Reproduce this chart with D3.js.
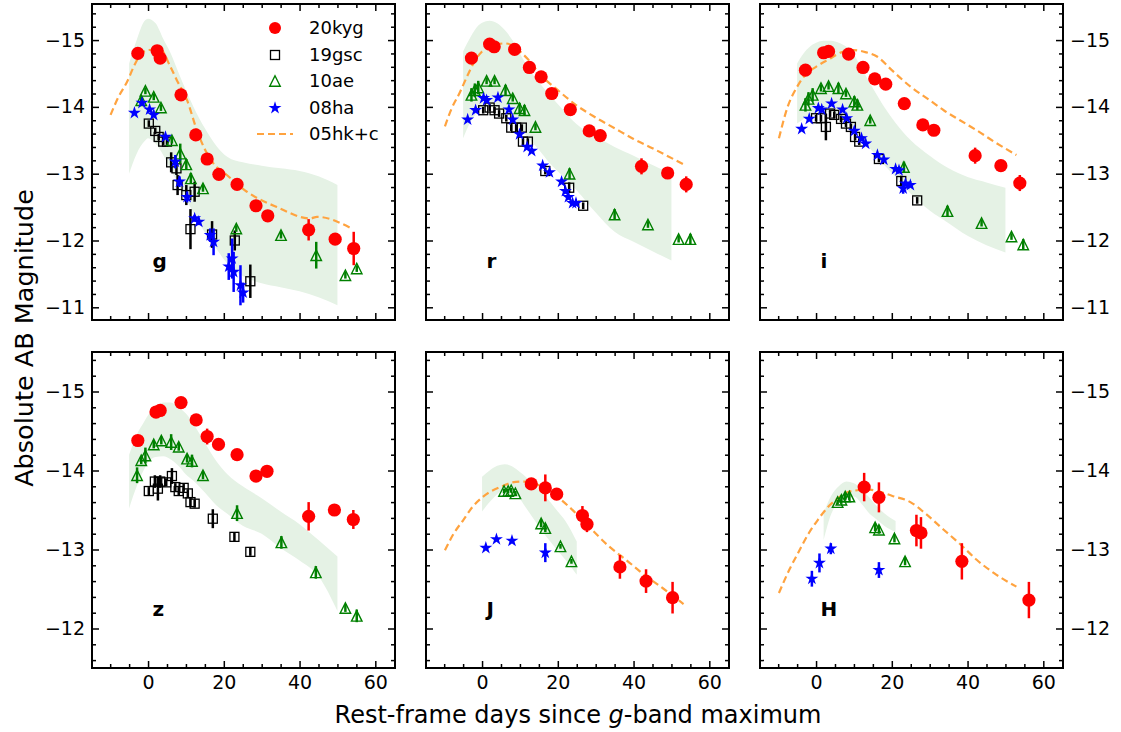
<!DOCTYPE html>
<html><head><meta charset="utf-8">
<script src="https://cdn.jsdelivr.net/npm/d3@7"></script>
<style>body{margin:0;background:#fff}svg{display:block}text{font-family:"DejaVu Sans",sans-serif}</style>
</head><body><svg id="c" width="1121" height="732"></svg>
<script>
// ---------- data: [days, absolute mag, error] ----------
const bands = ["g","r","i","z","J","H"];
const seriesNames = ["20kyg","19gsc","10ae","08ha","05hk+c"];

const kyg_g = [[-2.7,-14.80,0],[2.4,-14.84,0],[3.2,-14.73,0],[8.7,-14.18,0],[12.6,-13.58,0],[15.6,-13.22,0],[18.7,-12.99,0],[23.5,-12.84,0],[28.5,-12.52,0],[31.6,-12.37,0],[42.4,-12.16,0.16],[49.4,-12.02,0.05],[54.3,-11.88,0.25]];
const kyg_r = [[-2.8,-14.73,0],[2.0,-14.94,0],[3.2,-14.90,0],[8.6,-14.86,0],[12.5,-14.59,0],[15.6,-14.45,0],[18.4,-14.20,0],[23.3,-13.96,0],[28.3,-13.64,0],[31.2,-13.57,0],[42.1,-13.11,0.12],[49.0,-13.01,0.04],[53.9,-12.84,0.12]];
const kyg_i = [[-2.8,-14.55,0],[2.0,-14.81,0],[3.3,-14.83,0],[8.6,-14.79,0],[12.4,-14.59,0],[15.5,-14.42,0],[18.4,-14.34,0],[23.3,-14.05,0],[28.2,-13.73,0],[31.1,-13.65,0],[42.0,-13.27,0.12],[48.8,-13.12,0.04],[53.8,-12.86,0.12]];
const kyg_z = [[-2.7,-14.38,0],[2.1,-14.74,0],[3.2,-14.76,0],[8.7,-14.86,0],[12.7,-14.64,0],[15.6,-14.43,0.1],[18.6,-14.33,0],[23.5,-14.20,0],[28.5,-13.93,0],[31.4,-13.99,0],[42.4,-13.42,0.18],[49.2,-13.50,0.07],[54.2,-13.38,0.12]];
const kyg_J = [[13.0,-13.83,0.05],[16.7,-13.78,0.17],[19.7,-13.70,0],[26.5,-13.43,0.12],[27.7,-13.32,0.10],[36.4,-12.78,0.15],[43.3,-12.60,0.15],[50.3,-12.39,0.20]];
const kyg_H = [[12.7,-13.79,0.18],[16.6,-13.66,0.19],[26.5,-13.24,0.20],[27.7,-13.21,0.20],[38.5,-12.85,0.23],[56.2,-12.36,0.23]];

const gsc_g = [[0.2,-13.75,0.05],[1.9,-13.64,0.05],[2.8,-13.55,0.05],[4.0,-13.48,0.05],[5.0,-13.48,0.05],[6.1,-13.17,0.15],[7.5,-13.08,0.1],[7.8,-12.83,0.15],[10.1,-12.68,0.15],[12.3,-12.73,0.15],[11.2,-12.17,0.3],[16.9,-12.09,0.2],[22.9,-12.00,0.15],[27.0,-11.39,0.25]];
const gsc_r = [[0.3,-13.95,0.05],[2.0,-13.99,0.05],[3.3,-13.95,0.05],[4.5,-13.90,0.05],[6.4,-13.83,0.05],[7.7,-13.69,0.05],[9.0,-13.69,0.05],[10.5,-13.69,0.05],[10.8,-13.48,0.05],[12.1,-13.48,0.05],[16.7,-13.04,0.05],[23.0,-12.79,0.08],[26.7,-12.52,0.05]];
const gsc_i = [[0.0,-13.83,0.05],[1.3,-13.83,0.05],[2.6,-13.70,0.2],[3.7,-13.90,0.05],[4.8,-13.88,0.05],[6.6,-13.82,0.05],[7.9,-13.75,0.05],[9.2,-13.70,0.05],[10.3,-13.55,0.05],[11.4,-13.48,0.05],[16.6,-13.22,0.05],[22.5,-12.89,0.08],[26.7,-12.60,0.05]];
const gsc_z = [[0.2,-13.74,0.05],[1.8,-13.86,0.08],[2.6,-13.77,0.15],[3.2,-13.86,0.08],[4.8,-13.85,0.05],[6.3,-13.93,0.1],[7.2,-13.79,0.05],[8.1,-13.74,0.05],[9.4,-13.78,0.05],[10.5,-13.71,0.05],[11.2,-13.60,0.05],[12.3,-13.58,0.05],[17.1,-13.39,0.12],[22.8,-13.16,0.06],[27.0,-12.97,0.05]];
const gsc_J = [];
const gsc_H = [];

const ae_g = [[-1.8,-14.10,0.05],[-0.7,-14.24,0.05],[1.5,-14.15,0.05],[3.4,-13.99,0.05],[6.3,-13.50,0.05],[8.5,-13.30,0.15],[10.1,-13.14,0.08],[11.3,-12.93,0.08],[14.5,-12.78,0.05],[23.3,-12.18,0.05],[35.1,-12.08,0.05],[44.4,-11.78,0.2],[52.1,-11.48,0.05],[55.1,-11.58,0.05]];
const ae_r = [[-2.8,-14.18,0.1],[-1.9,-14.25,0.1],[-1.0,-14.29,0.1],[1.2,-14.39,0.05],[3.3,-14.39,0.05],[6.2,-14.25,0.08],[8.1,-14.13,0.05],[9.9,-13.98,0.08],[11.2,-13.95,0.08],[14.1,-13.70,0.05],[23.1,-13.00,0.08],[35.0,-12.39,0.08],[43.8,-12.24,0.05],[51.9,-12.02,0.05],[55.0,-12.02,0.08]];
const ae_i = [[-2.8,-14.03,0.1],[-2.0,-14.12,0.1],[-0.9,-14.18,0.1],[1.3,-14.28,0.05],[3.3,-14.31,0.05],[5.9,-14.28,0.08],[7.9,-14.20,0.05],[10.1,-14.08,0.08],[10.9,-14.03,0.08],[14.3,-13.80,0.05],[23.2,-13.10,0.08],[34.7,-12.44,0.08],[43.7,-12.26,0.05],[51.6,-12.06,0.05],[54.7,-11.94,0.08]];
const ae_z = [[-2.9,-13.94,0.1],[-1.8,-14.13,0.05],[-0.7,-14.19,0.1],[1.5,-14.33,0.05],[3.5,-14.38,0.05],[6.1,-14.36,0.1],[8.1,-14.30,0.05],[10.3,-14.15,0.05],[11.6,-14.12,0.08],[14.5,-13.94,0.05],[23.5,-13.46,0.1],[35.2,-13.09,0.08],[44.3,-12.71,0.08],[52.1,-12.26,0.05],[55.1,-12.16,0.08]];
const ae_J = [[5.8,-13.74,0.03],[6.9,-13.74,0.03],[7.7,-13.75,0.03],[8.8,-13.71,0.03],[15.6,-13.33,0.05],[16.7,-13.27,0.05],[20.7,-13.04,0.03],[23.6,-12.85,0.03]];
const ae_H = [[5.7,-13.60,0.03],[6.7,-13.63,0.05],[7.7,-13.67,0.05],[8.8,-13.67,0.05],[15.6,-13.28,0.05],[16.6,-13.25,0.05],[20.7,-13.14,0.05],[23.5,-12.85,0.05]];

const ha_g = [[-3.6,-13.91,0],[-1.6,-14.06,0],[0.4,-13.96,0],[1.5,-13.88,0],[4.6,-13.55,0],[7.2,-13.18,0.1],[8.3,-12.88,0.08],[10.3,-12.65,0.08],[12.3,-12.33,0.05],[13.4,-12.28,0.05],[16.4,-12.08,0.1],[17.3,-11.98,0.2],[21.3,-11.61,0.2],[22.2,-11.73,0.3],[22.6,-11.53,0.3],[24.4,-11.33,0.3],[25.1,-11.22,0.15]];
const ha_r = [[-3.8,-13.81,0],[-1.7,-13.95,0],[0.4,-14.13,0],[1.2,-14.10,0],[4.2,-14.14,0],[7.1,-13.96,0],[8.1,-13.81,0],[9.9,-13.59,0],[11.9,-13.40,0],[13.1,-13.34,0],[16.0,-13.12,0],[17.8,-13.02,0],[21.0,-12.88,0],[22.0,-12.74,0],[22.8,-12.65,0],[23.9,-12.56,0],[24.8,-12.56,0]];
const ha_i = [[-3.8,-13.67,0],[-1.8,-13.82,0],[0.6,-13.98,0],[1.5,-13.96,0],[4.1,-14.05,0],[7.0,-13.96,0],[8.1,-13.83,0],[10.1,-13.64,0],[12.0,-13.53,0],[13.1,-13.45,0],[16.2,-13.28,0],[17.9,-13.21,0],[21.0,-13.07,0],[21.9,-13.05,0],[23.0,-12.78,0.08],[23.6,-12.85,0],[24.9,-12.83,0]];
const ha_z = [];
const ha_J = [[1.0,-13.02,0],[3.8,-13.13,0],[7.9,-13.11,0],[16.7,-12.96,0.12]];
const ha_H = [[-1.1,-12.63,0.1],[0.9,-12.83,0.12],[3.9,-13.01,0.07],[16.6,-12.74,0.1]];

// 05hk+c template curves [days, mag]
const hk_g = [[-9.9,-13.88],[-7.8,-14.15],[-5.5,-14.38],[-3.8,-14.6],[-2,-14.78],[-0.1,-14.85],[3.2,-14.86],[5.9,-14.6],[7.6,-14.4],[10.3,-14.1],[12.9,-13.65],[14.7,-13.4],[17.3,-13.15],[20.8,-12.98],[26.1,-12.73],[34,-12.5],[42.8,-12.33],[44.6,-12.355],[53.4,-12.19]];
const hk_r = [[-9.8,-13.71],[-8,-13.98],[-6,-14.2],[-4,-14.45],[-2,-14.68],[0,-14.83],[2,-14.9],[4,-14.94],[6,-14.95],[8,-14.92],[10,-14.83],[12,-14.72],[14,-14.58],[16,-14.45],[20,-14.25],[25,-14.02],[30,-13.84],[35,-13.68],[40,-13.52],[45,-13.38],[53.2,-13.14]];
const hk_i = [[-9.8,-13.53],[-7.5,-14.0],[-5,-14.3],[-3,-14.47],[0,-14.6],[3,-14.7],[7.4,-14.83],[10,-14.85],[13,-14.82],[16.2,-14.75],[20,-14.55],[25,-14.3],[30,-14.1],[33.7,-13.95],[38,-13.8],[42.4,-13.65],[47,-13.48],[52.9,-13.28]];
const hk_z = [];
const hk_J = [[-9.8,-12.99],[-7.5,-13.2],[-5,-13.37],[-2.5,-13.54],[0.3,-13.67],[5.8,-13.81],[8,-13.85],[11,-13.86],[13.5,-13.84],[16,-13.79],[19,-13.7],[23,-13.54],[28,-13.3],[33.5,-13.04],[38,-12.87],[42.3,-12.7],[48,-12.5],[53.2,-12.31]];
const hk_H = [[-9.8,-12.45],[-7,-12.75],[-4.8,-12.95],[-2,-13.2],[0.4,-13.37],[3,-13.53],[5.8,-13.65],[8,-13.72],[10.9,-13.75],[13.5,-13.76],[16.2,-13.74],[20,-13.68],[24.9,-13.6],[29,-13.45],[33.7,-13.25],[38,-13.07],[42.4,-12.87],[47,-12.7],[52.9,-12.53]];

// shaded comparison envelope [days, bright edge, faint edge]
const env_g = [[-5,-14.65,-13.0],[-3,-15.0,-13.3],[-1,-15.28,-13.48],[0,-15.32,-13.53],[2,-15.25,-13.45],[4,-15.02,-13.28],[6,-14.8,-13.05],[8,-14.52,-12.85],[10,-14.25,-12.63],[12,-14.0,-12.41],[15,-13.68,-12.12],[18,-13.42,-11.88],[21,-13.25,-11.65],[25,-13.17,-11.47],[30,-13.12,-11.36],[35,-13.08,-11.3],[40,-13.04,-11.24],[45,-12.96,-11.15],[50,-12.83,-11.03]];
const env_r = [[-5,-14.83,-13.53],[-3,-15.05,-13.78],[-1,-15.22,-13.93],[0,-15.26,-13.98],[2,-15.29,-14.0],[4,-15.25,-13.98],[6,-15.15,-13.92],[8,-15.0,-13.82],[10,-14.8,-13.68],[12,-14.6,-13.55],[15,-14.37,-13.36],[18,-14.17,-13.15],[21,-13.98,-12.98],[25,-13.74,-12.75],[30,-13.56,-12.42],[35,-13.4,-12.13],[40,-13.27,-11.98],[45,-13.13,-11.84],[50,-13.0,-11.7]];
const env_i = [[-5,-14.65,-13.75],[-3,-14.82,-13.83],[-1,-14.93,-13.9],[0,-14.96,-13.92],[2,-14.99,-13.93],[4,-14.99,-13.92],[6,-14.96,-13.87],[8,-14.9,-13.78],[10,-14.78,-13.65],[12,-14.58,-13.52],[15,-14.28,-13.33],[18,-14.0,-13.13],[21,-13.76,-12.95],[25,-13.5,-12.7],[30,-13.27,-12.45],[35,-13.08,-12.26],[40,-12.95,-12.07],[45,-12.87,-11.93],[50,-12.79,-11.82]];
const env_z = [[-5,-14.2,-13.52],[-3,-14.45,-13.8],[-1,-14.62,-14.02],[0,-14.7,-14.1],[2,-14.8,-14.17],[4,-14.86,-14.18],[6,-14.86,-14.14],[8,-14.8,-14.06],[10,-14.72,-13.95],[12,-14.59,-13.87],[15,-14.35,-13.72],[18,-14.12,-13.56],[21,-13.95,-13.45],[25,-13.8,-13.3],[30,-13.65,-13.2],[35,-13.48,-13.02],[40,-13.32,-12.86],[45,-13.12,-12.66],[50,-12.91,-12.22]];
const env_J = [[0,-13.92,-13.48],[2,-14.0,-13.6],[4,-14.06,-13.7],[6,-14.08,-13.76],[8,-14.05,-13.75],[10,-13.98,-13.64],[12,-13.9,-13.5],[14,-13.8,-13.36],[16,-13.71,-13.22],[18,-13.6,-13.1],[20,-13.48,-12.98],[22,-13.36,-12.87],[25,-13.1,-12.68]];
const env_H = [[2,-13.46,-13.12],[4,-13.68,-13.45],[6,-13.8,-13.6],[8,-13.86,-13.67],[10,-13.84,-13.67],[12,-13.76,-13.58],[14,-13.66,-13.46],[16,-13.55,-13.38],[18,-13.46,-13.3],[21,-13.36,-13.22]];

const xMajorTicks = [0,20,40,60];
const yMajorTicksTop = [-15,-14,-13,-12,-11];
const yMajorTicksBottom = [-15,-14,-13,-12];

// ---------- layout ----------
const colX = [92,426,760], rowY = [4,352], PW = 303, PH = 316;
const xDomain = [-14.8,65.2];
const yDomains = [[-15.54,-10.81],[-15.5,-11.5]];
const RED="#ff0000", BLK="#000000", GRN="#008000", BLU="#0000ff", ORG="#ffa33f", ENV="#e5f2e5";

const panels = [
  {name:"g",c:0,r:0,kyg:kyg_g,gsc:gsc_g,ae:ae_g,ha:ha_g,hk:hk_g,env:env_g},
  {name:"r",c:1,r:0,kyg:kyg_r,gsc:gsc_r,ae:ae_r,ha:ha_r,hk:hk_r,env:env_r},
  {name:"i",c:2,r:0,kyg:kyg_i,gsc:gsc_i,ae:ae_i,ha:ha_i,hk:hk_i,env:env_i},
  {name:"z",c:0,r:1,kyg:kyg_z,gsc:gsc_z,ae:ae_z,ha:ha_z,hk:hk_z,env:env_z},
  {name:"J",c:1,r:1,kyg:kyg_J,gsc:gsc_J,ae:ae_J,ha:ha_J,hk:hk_J,env:env_J},
  {name:"H",c:2,r:1,kyg:kyg_H,gsc:gsc_H,ae:ae_H,ha:ha_H,hk:hk_H,env:env_H}
];

const svg = d3.select("#c");
const fmt = d => d<0 ? "\u2212"+Math.abs(d) : String(d);
const triPath = s => { const h=s/2; return `M0,${-h}L${h},${h}L${-h},${h}Z`; };
const starSym = (a) => d3.symbol(d3.symbolStar, a)();

panels.forEach((p,pi) => {
  const x = d3.scaleLinear().domain(xDomain).range([0,PW]);
  const y = d3.scaleLinear().domain(yDomains[p.r]).range([0,PH]);
  const g = svg.append("g").attr("transform",`translate(${colX[p.c]},${rowY[p.r]})`);
  const cid = "clip"+pi;
  g.append("clipPath").attr("id",cid).append("rect").attr("width",PW).attr("height",PH);
  const plot = g.append("g").attr("clip-path",`url(#${cid})`);

  // envelope
  plot.append("path").datum(p.env)
    .attr("d", d3.area().x(d=>x(d[0])).y0(d=>y(d[2])).y1(d=>y(d[1])).curve(d3.curveMonotoneX))
    .attr("fill",ENV);

  // model dashed
  if (p.hk.length) plot.append("path").datum(p.hk)
    .attr("d", d3.line().x(d=>x(d[0])).y(d=>y(d[1])).curve(d3.curveMonotoneX))
    .attr("fill","none").attr("stroke",ORG).attr("stroke-width",2.2).attr("stroke-dasharray","7,4");

  const errbars = (data,color) => plot.append("g").selectAll("line").data(data.filter(d=>d[2]>0)).join("line")
    .attr("x1",d=>x(d[0])).attr("x2",d=>x(d[0]))
    .attr("y1",d=>y(d[1]-d[2])).attr("y2",d=>y(d[1]+d[2]))
    .attr("stroke",color).attr("stroke-width",2.5);

  // 20kyg
  errbars(p.kyg,RED);
  plot.append("g").selectAll("circle").data(p.kyg).join("circle")
    .attr("cx",d=>x(d[0])).attr("cy",d=>y(d[1])).attr("r",6.6).attr("fill",RED);
  // 19gsc
  errbars(p.gsc,BLK);
  plot.append("g").selectAll("rect").data(p.gsc).join("rect")
    .attr("x",d=>x(d[0])-4.5).attr("y",d=>y(d[1])-4.5).attr("width",9).attr("height",9)
    .attr("fill","none").attr("stroke",BLK).attr("stroke-width",1.3);
  // 10ae
  errbars(p.ae,GRN);
  plot.append("g").selectAll("path").data(p.ae).join("path")
    .attr("transform",d=>`translate(${x(d[0])},${y(d[1])})`).attr("d",triPath(10.5))
    .attr("fill","none").attr("stroke",GRN).attr("stroke-width",1.4);
  // 08ha
  errbars(p.ha,BLU);
  plot.append("g").selectAll("path").data(p.ha).join("path")
    .attr("transform",d=>`translate(${x(d[0])},${y(d[1])})`).attr("d",starSym(52))
    .attr("fill",BLU);

  // axes (ticks inward on all sides)
  const yMaj = p.r===0 ? yMajorTicksTop : yMajorTicksBottom;
  const yMin = d3.range(Math.ceil(yDomains[p.r][0]*5), Math.floor(yDomains[p.r][1]*5)+1).map(v=>v/5).filter(v=>Math.abs(v-Math.round(v))>1e-6);
  const xMin = d3.range(-10,66,5).filter(v=>v%20!==0);
  const style = sel => { sel.select(".domain").remove(); sel.selectAll("line").attr("stroke","#000").attr("stroke-width",1.5);
    sel.selectAll("text").attr("font-size",19).attr("font-family","DejaVu Sans").attr("fill","#000"); };

  g.append("g").attr("transform",`translate(0,${PH})`).call(d3.axisBottom(x).tickValues(xMajorTicks).tickSize(-7).tickPadding(7.5).tickFormat(p.r===1?fmt:()=>"")).call(style);
  g.append("g").attr("transform",`translate(0,${PH})`).call(d3.axisBottom(x).tickValues(xMin).tickSize(-4).tickFormat(()=>"")).call(style);
  g.append("g").call(d3.axisTop(x).tickValues(xMajorTicks).tickSize(-7).tickFormat(()=>"")).call(style);
  g.append("g").call(d3.axisTop(x).tickValues(xMin).tickSize(-4).tickFormat(()=>"")).call(style);
  g.append("g").call(d3.axisLeft(y).tickValues(yMaj).tickSize(-7).tickPadding(7).tickFormat(p.c===0?fmt:()=>"")).call(style);
  g.append("g").call(d3.axisLeft(y).tickValues(yMin).tickSize(-4).tickFormat(()=>"")).call(style);
  g.append("g").attr("transform",`translate(${PW},0)`).call(d3.axisRight(y).tickValues(yMaj).tickSize(-7).tickPadding(7).tickFormat(p.c===2?fmt:()=>"")).call(style);
  g.append("g").attr("transform",`translate(${PW},0)`).call(d3.axisRight(y).tickValues(yMin).tickSize(-4).tickFormat(()=>"")).call(style);

  g.append("rect").attr("width",PW).attr("height",PH).attr("fill","none").attr("stroke","#000").attr("stroke-width",2);

  // band label
  g.append("text").attr("x",0.2*PW).attr("y",PH-0.15*PH-4.7)
    .attr("font-size",20).attr("font-weight","bold").attr("fill","#000").text(p.name);

  // legend in first panel
  if (pi===0) {
    const lg = g.append("g");
    const lx = 275-colX[0], tx = 309-colX[0], ly = [28,55,81,108,134].map(v=>v-rowY[0]);
    lg.append("circle").attr("cx",lx).attr("cy",ly[0]).attr("r",6).attr("fill",RED);
    lg.append("rect").attr("x",lx-4.5).attr("y",ly[1]-4.5).attr("width",9).attr("height",9).attr("fill","none").attr("stroke",BLK).attr("stroke-width",1.3);
    lg.append("path").attr("transform",`translate(${lx},${ly[2]})`).attr("d",triPath(10.5)).attr("fill","none").attr("stroke",GRN).attr("stroke-width",1.4);
    lg.append("path").attr("transform",`translate(${lx},${ly[3]})`).attr("d",starSym(52)).attr("fill",BLU);
    lg.append("line").attr("x1",lx-18).attr("x2",lx+18).attr("y1",ly[4]).attr("y2",ly[4]).attr("stroke",ORG).attr("stroke-width",2.2).attr("stroke-dasharray","7,4");
    seriesNames.forEach((s,k)=> lg.append("text").attr("x",tx).attr("y",ly[k]).attr("dy","0.36em").attr("font-size",18).attr("fill","#000").text(s));
  }
});

// axis titles
svg.append("text").attr("transform","translate(33,338) rotate(-90)").attr("text-anchor","middle")
  .attr("font-size",25.5).attr("fill","#000").text("Absolute AB Magnitude");
const xl = svg.append("text").attr("x",578).attr("y",723).attr("text-anchor","middle").attr("font-size",24).attr("fill","#000");
xl.append("tspan").text("Rest-frame days since ");
xl.append("tspan").attr("font-style","italic").text("g");
xl.append("tspan").text("-band maximum");
</script></body></html>
